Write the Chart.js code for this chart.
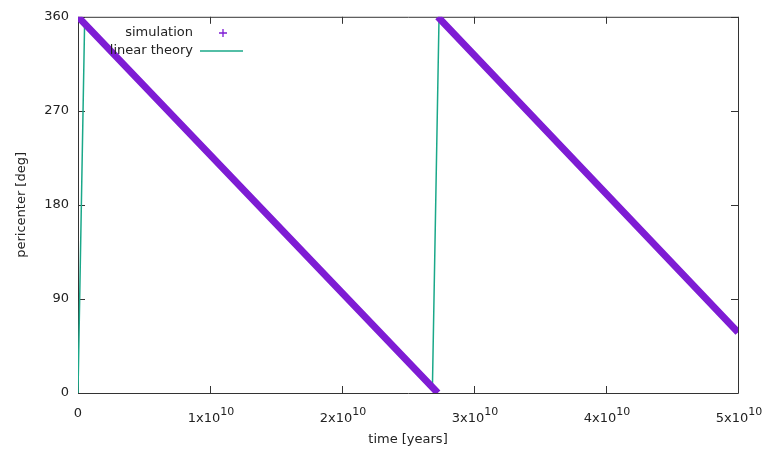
<!DOCTYPE html>
<html>
<head>
<meta charset="utf-8">
<script src="https://cdn.jsdelivr.net/npm/chart.js@4.4.0/dist/chart.umd.min.js"></script>
<style>
  html, body { margin: 0; padding: 0; background: #ffffff; }
  #wrap { width: 763px; height: 450px; }
</style>
</head>
<body>
<div id="wrap"><canvas id="c" width="763" height="450"></canvas></div>
<script>
// Simulated pericenter angle (deg) against time (years); null breaks the line at the wrap.
const simTime  = [0, 2.726e10, 2.726e10, 2.726e10, 5e10];
const simAngle = [360, 0, null, 360, 58];

// Linear-theory curve, sampled, wrapped into [0, 360).
const theoryTime  = [0, 0.05e10, 2.685e10, 2.735e10, 5e10];
const theoryAngle = [0, 353.4, 5.4, 358.8, 59.7];

// Axis ticks
const xTickValues = [0, 1e10, 2e10, 3e10, 4e10, 5e10];
const xTickBase   = ['0', '1x10', '2x10', '3x10', '4x10', '5x10'];
const xTickExp    = ['', '10', '10', '10', '10', '10'];
const yTickValues = [0, 90, 180, 270, 360];

const FONT = 'DejaVu Sans';
const TEXT = '#222222';
const AXIS = '#333333';
const PURPLE = '#7e1cd4';
const GREEN = '#1aa889';

const toPoints = (xs, ys) => xs.map((x, i) => ({ x: x, y: ys[i] }));

// Frame with inward tick marks on all four sides (gnuplot style).
const framePlugin = {
  id: 'frame',
  beforeDatasetsDraw(chart) {
    const { ctx, chartArea: a, scales: { x, y } } = chart;
    const L = 7;
    ctx.save();
    ctx.strokeStyle = AXIS;
    ctx.lineWidth = 1;
    ctx.beginPath();
    ctx.rect(a.left + 0.5, a.top + 0.5, a.right - a.left, a.bottom - a.top);
    xTickValues.forEach(v => {
      const px = Math.round(x.getPixelForValue(v)) + 0.5;
      ctx.moveTo(px, a.bottom); ctx.lineTo(px, a.bottom - L);
      ctx.moveTo(px, a.top); ctx.lineTo(px, a.top + L);
    });
    yTickValues.forEach(v => {
      const py = Math.round(y.getPixelForValue(v)) + 0.5;
      ctx.moveTo(a.left, py); ctx.lineTo(a.left + L, py);
      ctx.moveTo(a.right, py); ctx.lineTo(a.right - L, py);
    });
    ctx.stroke();
    ctx.restore();
  },
  afterDraw(chart) {
    const { ctx, chartArea: a, scales: { x } } = chart;
    ctx.save();
    ctx.fillStyle = TEXT;
    ctx.textBaseline = 'alphabetic';
    // x tick labels with superscript exponents
    xTickValues.forEach((v, i) => {
      const px = x.getPixelForValue(v);
      const base = xTickBase[i], exp = xTickExp[i];
      ctx.font = '13px "' + FONT + '"';
      const bw = ctx.measureText(base).width;
      if (!exp) {
        ctx.textAlign = 'center';
        ctx.fillText(base, px, a.bottom + 24);
        return;
      }
      ctx.font = '11px "' + FONT + '"';
      const ew = ctx.measureText(exp).width;
      const start = px - (bw + ew) / 2 + 1;
      ctx.textAlign = 'left';
      ctx.font = '13px "' + FONT + '"';
      ctx.fillText(base, start, a.bottom + 28.5);
      ctx.font = '11px "' + FONT + '"';
      ctx.fillText(exp, start + bw, a.bottom + 22);
    });

    // key: label right-aligned, sample to its right
    const ds = chart.data.datasets;
    ctx.font = '13px "' + FONT + '"';
    ctx.textAlign = 'right';
    ctx.textBaseline = 'middle';
    ctx.fillText(ds[0].label, 193, 33);
    ctx.fillText(ds[1].label, 193, 51);
    ctx.strokeStyle = PURPLE;
    ctx.lineWidth = 1.3;
    ctx.beginPath();
    ctx.moveTo(219, 33); ctx.lineTo(227, 33);
    ctx.moveTo(223, 29); ctx.lineTo(223, 37);
    ctx.stroke();
    ctx.strokeStyle = GREEN;
    ctx.lineWidth = 1.5;
    ctx.beginPath();
    ctx.moveTo(200, 51); ctx.lineTo(243, 51);
    ctx.stroke();
    ctx.restore();
  }
};

new Chart(document.getElementById('c'), {
  type: 'scatter',
  data: {
    datasets: [
      {
        label: 'simulation',
        data: toPoints(simTime, simAngle),
        showLine: true,
        spanGaps: false,
        borderColor: PURPLE,
        backgroundColor: PURPLE,
        borderWidth: 7,
        borderCapStyle: 'butt',
        pointRadius: 0,
        tension: 0
      },
      {
        label: 'linear theory',
        data: toPoints(theoryTime, theoryAngle),
        showLine: true,
        borderColor: GREEN,
        backgroundColor: GREEN,
        borderWidth: 1.5,
        pointRadius: 0,
        tension: 0
      }
    ]
  },
  options: {
    responsive: false,
    animation: false,
    devicePixelRatio: 1,
    layout: { padding: { top: 15, right: 25, left: 0, bottom: 0 } },
    plugins: { legend: { display: false }, tooltip: { enabled: false } },
    scales: {
      x: {
        type: 'linear',
        min: 0,
        max: 5e10,
        grid: { display: false, drawTicks: false },
        border: { display: false },
        ticks: { display: false },
        afterBuildTicks: s => { s.ticks = xTickValues.map(v => ({ value: v })); },
        afterFit: s => { s.height = 57; },
        title: {
          display: true,
          text: 'time [years]',
          color: TEXT,
          font: { family: FONT, size: 13 },
          padding: { top: 0, bottom: 3 }
        }
      },
      y: {
        type: 'linear',
        min: 0,
        max: 360,
        grid: { display: false, drawTicks: false },
        border: { display: false },
        afterBuildTicks: s => { s.ticks = yTickValues.map(v => ({ value: v })); },
        afterFit: s => { s.width = 78; },
        ticks: {
          padding: 9,
          color: TEXT,
          font: { family: FONT, size: 13 }
        },
        title: {
          display: true,
          text: 'pericenter [deg]',
          color: TEXT,
          font: { family: FONT, size: 13 },
          padding: { top: 14, bottom: 0 }
        }
      }
    }
  },
  plugins: [framePlugin]
});
</script>
</body>
</html>
